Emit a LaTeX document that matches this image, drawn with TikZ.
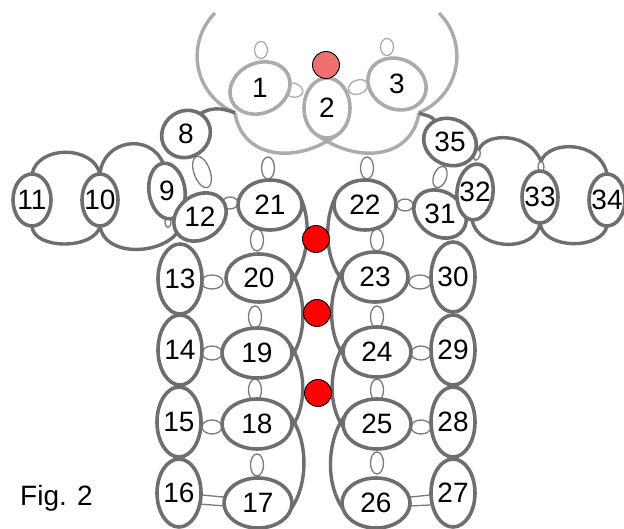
\documentclass[tikz,border=0pt]{standalone}
\usepackage{fontspec}
\setmainfont{Liberation Sans}
\usepackage{graphicx}
\usepackage{tikz}
\usetikzlibrary{shapes.geometric}
\pgfdeclarelayer{background}
\pgfsetlayers{background,main}

\definecolor{ringgray}{HTML}{6E6E6E}
\definecolor{palegray}{HTML}{ABABAB}
\definecolor{picotgray}{HTML}{7A7A7A}
\definecolor{beadred}{HTML}{FF0000}
\definecolor{beadpink}{HTML}{F07070}

\newcommand\rnum[1]{\makebox[0pt]{\raisebox{-.5\height}[0pt][0pt]{#1}}}

\begin{document}
\begin{tikzpicture}[x=1pt,y=-1pt]
    \tikzset{ring/.style = {shape=ellipse,draw=ringgray,line width=3.6pt,fill=white,inner sep=0pt,outer sep=0pt,font=\fontsize{28}{28}\selectfont}}
    \tikzset{ringl/.style = {ring,draw=palegray}}
    \tikzset{picot/.style = {shape=ellipse,draw=picotgray,line width=1.3pt,fill=white,inner sep=0pt,outer sep=0pt}}
    \tikzset{picotl/.style = {picot,draw=palegray}}
    \tikzset{chain/.style = {draw=ringgray,line width=3.4pt}}
    \tikzset{chainl/.style = {chain,draw=palegray}}
    \tikzset{bead/.style = {shape=circle,draw=black,line width=0.9pt,fill=beadred,minimum size=27pt,inner sep=0pt}}

    \useasboundingbox (0,0) rectangle (624,529);

    % picots
    \node[picotl,minimum width=13pt,minimum height=17pt] (p1) at (261,50) {};
    \node[picotl,minimum width=13pt,minimum height=17pt] (p3) at (387,47) {};
    \node[picotl,minimum width=20pt,minimum height=14pt,rotate=-15] (p12) at (293,90) {};
    \node[picotl,minimum width=20pt,minimum height=14pt,rotate=20] (p23) at (358,87) {};

    \node[picot,minimum width=13pt,minimum height=22pt] (p21) at (268,168) {};
    \node[picot,minimum width=13pt,minimum height=22pt] (p22) at (367,168) {};
    \node[picot,minimum width=16pt,minimum height=33pt,rotate=20] (p8) at (202,172) {};
    \node[picot,minimum width=6pt,minimum height=11pt] (p9) at (168,222) {};
    \node[picot,minimum width=16pt,minimum height=12pt] (p1221) at (230,203) {};
    \node[picot,minimum width=16pt,minimum height=12pt] (p2231) at (405,205) {};
    \node[picot,minimum width=13pt,minimum height=22pt,rotate=-20] (p35) at (440,177) {};
    \node[picot,minimum width=6pt,minimum height=11pt,rotate=-20] (p3532) at (477,155) {};
    \node[picot,minimum width=6pt,minimum height=11pt] (p33) at (541,167) {};

    \node[picot,minimum width=13pt,minimum height=22pt] (p2120) at (257,240) {};
    \node[picot,minimum width=13pt,minimum height=22pt] (p2019) at (255,317) {};
    \node[picot,minimum width=13pt,minimum height=22pt] (p1918) at (255,390) {};
    \node[picot,minimum width=13pt,minimum height=22pt] (p1817) at (257,465) {};
    \node[picot,minimum width=13pt,minimum height=22pt] (p2223) at (377,240) {};
    \node[picot,minimum width=13pt,minimum height=22pt] (p2324) at (377,317) {};
    \node[picot,minimum width=13pt,minimum height=22pt] (p2425) at (377,390) {};
    \node[picot,minimum width=13pt,minimum height=22pt] (p2526) at (377,463) {};

    \node[picot,minimum width=22pt,minimum height=14pt] (p1320) at (212,282) {};
    \node[picot,minimum width=20pt,minimum height=14pt] (p1419) at (212,353) {};
    \node[picot,minimum width=20pt,minimum height=14pt] (p1518) at (212,427) {};
    \node[picot,minimum width=22pt,minimum height=14pt] (p3023) at (420,282) {};
    \node[picot,minimum width=20pt,minimum height=14pt] (p2924) at (421,353) {};
    \node[picot,minimum width=20pt,minimum height=14pt] (p2825) at (421,427) {};

    % rings
    \node[ringl,minimum width=62pt,minimum height=50pt,rotate=25] (r1) at (260,88) {\rotatebox{-25}{\rnum{1}}};
    \node[ringl,minimum width=46pt,minimum height=60pt] (r2) at (327,108) {\rnum{2}};
    \node[ringl,minimum width=60pt,minimum height=50pt,rotate=-25] (r3) at (397,84) {\rotatebox{25}{\rnum{3}}};

    \node[ring,minimum width=50pt,minimum height=46pt,rotate=35] (r8) at (186,134) {\rotatebox{-35}{\rnum{8}}};
    \node[ring,minimum width=36pt,minimum height=56pt,rotate=8] (r9) at (167,191) {\rotatebox{-8}{\rnum{9}}};
    \node[ring,minimum width=36pt,minimum height=52pt] (r10) at (100,200) {\rnum{10}};
    \node[ring,minimum width=38pt,minimum height=52pt] (r11) at (32,200) {\rnum{11}};
    \node[ring,minimum width=56pt,minimum height=44pt,rotate=35] (r12) at (200,217) {\rotatebox{-35}{\rnum{12}}};
    \node[ring,minimum width=44pt,minimum height=70pt] (r13) at (180,279) {\rnum{13}};
    \node[ring,minimum width=44pt,minimum height=70pt] (r14) at (180,350) {\rnum{14}};
    \node[ring,minimum width=44pt,minimum height=70pt] (r15) at (179,422) {\rnum{15}};
    \node[ring,minimum width=44pt,minimum height=68pt] (r16) at (179,493) {\rnum{16}};
    \node[ring,minimum width=68pt,minimum height=50pt] (r17) at (258,503) {\rnum{17}};
    \node[ring,minimum width=70pt,minimum height=50pt] (r18) at (257,424) {\rnum{18}};
    \node[ring,minimum width=70pt,minimum height=50pt] (r19) at (257,353) {\rnum{19}};
    \node[ring,minimum width=66pt,minimum height=48pt] (r20) at (259,278) {\rnum{20}};
    \node[ring,minimum width=64pt,minimum height=50pt] (r21) at (270,205) {\rnum{21}};
    \node[ring,minimum width=62pt,minimum height=50pt] (r22) at (365,205) {\rnum{22}};
    \node[ring,minimum width=66pt,minimum height=50pt] (r23) at (375,277) {\rnum{23}};
    \node[ring,minimum width=68pt,minimum height=50pt] (r24) at (377,352) {\rnum{24}};
    \node[ring,minimum width=68pt,minimum height=50pt] (r25) at (377,424) {\rnum{25}};
    \node[ring,minimum width=68pt,minimum height=50pt] (r26) at (376,503) {\rnum{26}};
    \node[ring,minimum width=44pt,minimum height=68pt] (r27) at (453,493) {\rnum{27}};
    \node[ring,minimum width=44pt,minimum height=70pt] (r28) at (453,422) {\rnum{28}};
    \node[ring,minimum width=44pt,minimum height=70pt] (r29) at (453,350) {\rnum{29}};
    \node[ring,minimum width=44pt,minimum height=70pt] (r30) at (453,277) {\rnum{30}};
    \node[ring,minimum width=56pt,minimum height=44pt,rotate=-35] (r31) at (440,214) {\rotatebox{35}{\rnum{31}}};
    \node[ring,minimum width=36pt,minimum height=56pt,rotate=-6] (r32) at (475,192) {\rotatebox{6}{\rnum{32}}};
    \node[ring,minimum width=36pt,minimum height=52pt] (r33) at (540,197) {\rnum{33}};
    \node[ring,minimum width=36pt,minimum height=52pt] (r34) at (607,200) {\rnum{34}};
    \node[ring,minimum width=54pt,minimum height=46pt,rotate=-25] (r35) at (450,142) {\rotatebox{25}{\rnum{35}}};

    % beads
    \node[bead,fill=beadpink] (b0) at (326,65) {};
    \node[bead] (b1) at (316,239) {};
    \node[bead] (b2) at (317,313) {};
    \node[bead] (b3) at (318,393) {};

    \node[font=\fontsize{28}{28}\selectfont,anchor=base west,inner sep=0pt] (fig) at (20,505) {Fig. 2};

    \coordinate (tl) at (215,13);
    \coordinate (tr) at (439,13);
    \coordinate (j1) at (235,113);
    \coordinate (j3) at (419,113);

    %chains
    \begin{pgfonlayer}{background}
    \draw[chainl] (tl) arc[start angle=225,end angle=112,radius=61];
    \draw[chainl] (tr) arc[start angle=-45,end angle=68,radius=61];
    \draw[chainl] (j1) .. controls (242,158) and (295,165) .. (r2.290);
    \draw[chainl] (j3) .. controls (412,158) and (359,165) .. (r2.250);

    \draw[chain] (r8.20) .. controls +(10,-6) and +(-14,-6) .. (j1);
    \draw[chain] (j3) .. controls +(6,3) and +(-4,-6) .. (r35.150);

    \draw[chain] (r11.north) .. controls (38,145) and (93,145) .. (r10.north);
    \draw[chain] (r11.south) .. controls (33,250) and (95,250) .. (r10.south);
    \draw[chain] (r10.north) .. controls (103,140) and (150,132) .. (r9.north);
    \draw[chain] (r10.south) .. controls (104,256) and (158,256) .. (r12.west);

    \draw[chain] (p3532.north) .. controls (485,132) and (530,132) .. (p33.north);
    \draw[chain] (r32.south) .. controls (478,252) and (537,252) .. (r33.south);
    \draw[chain] (p33.north) .. controls (548,140) and (600,140) .. (r34.north);
    \draw[chain] (r33.south) .. controls (543,250) and (602,250) .. (r34.south);

    \draw[chain] (r21.25) .. controls +(15,23) and +(18,-21) .. (r20.-5);
    \draw[chain] (r20.15) .. controls +(16,22) and +(16,-22) .. (r19.-5);
    \draw[chain] (r19.15) .. controls +(16,22) and +(16,-22) .. (r18.-5);
    \draw[chain] (r18.15) .. controls +(18,24) and +(18,-26) .. (r17.-10);
    \draw[chain] (r22.155) .. controls +(-15,23) and +(-18,-21) .. (r23.185);
    \draw[chain] (r23.165) .. controls +(-16,22) and +(-16,-22) .. (r24.185);
    \draw[chain] (r24.165) .. controls +(-16,22) and +(-16,-22) .. (r25.185);
    \draw[chain] (r25.165) .. controls +(-18,24) and +(-18,-26) .. (r26.190);

    \draw[picot] (r16.-5) -- (r17.170);
    \draw[picot] (r16.-28) -- (r17.185);
    \draw[picot] (r26.10) -- (r27.185);
    \draw[picot] (r26.-5) -- (r27.210);
    \end{pgfonlayer}
\end{tikzpicture}
\end{document}
